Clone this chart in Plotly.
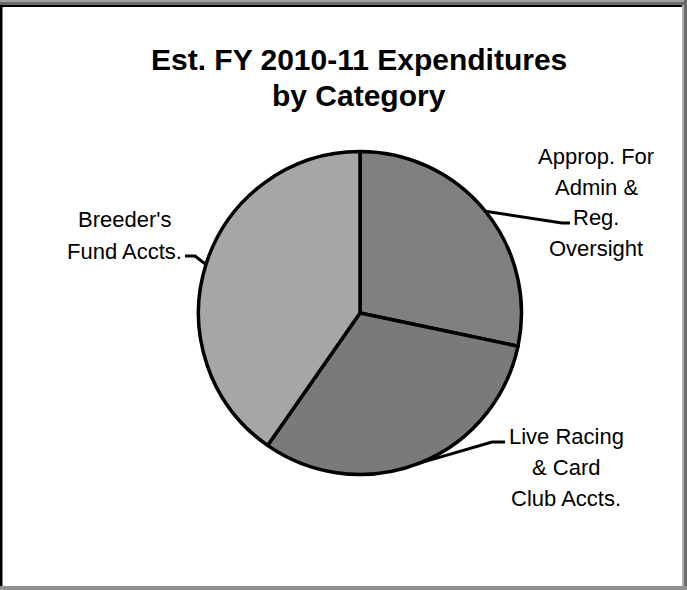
import math
import plotly.graph_objects as go

# ---- data ----
categories = ["Approp. For Admin & Reg. Oversight",
              "Live Racing & Card Club Accts.",
              "Breeder's Fund Accts."]
values = [28.3, 31.4, 40.3]
slice_colors = ["#808080", "#7a7a7a", "#a6a6a6"]
label_lines = [["Approp. For", "Admin &", "Reg.", "Oversight"],
               ["Live Racing", "& Card", "Club Accts."],
               ["Breeder's", "Fund Accts."]]
title_lines = ["Est. FY 2010-11 Expenditures", "by Category"]

W, H = 687, 590
CX, CY, R = 360, 313, 161.5


def px(x):
    return x / W


def py(y):
    return 1 - y / H


fig = go.Figure(go.Pie(
    labels=categories, values=values, sort=False, direction="clockwise",
    rotation=0, textinfo="none", hoverinfo="label+percent",
    marker=dict(colors=slice_colors, line=dict(color="black", width=3.5)),
    domain=dict(x=[px(CX - R), px(CX + R)], y=[py(CY + R), py(CY - R)]),
    showlegend=False,
))

label_font = dict(family="Liberation Sans, Arial, sans-serif", size=22, color="black")
annotations = []
# title
for txt, yc in zip(title_lines, [60, 95]):
    annotations.append(dict(text=f"<b>{txt}</b>", x=px(359), y=py(yc), xref="paper", yref="paper",
                            showarrow=False, xanchor="center", yanchor="middle",
                            font=dict(family="Liberation Sans, Arial, sans-serif", size=30, color="black")))

# label placement (layout)
label_pos = [(596, [156, 187, 218, 248]),
             (566, [436, 467, 498]),
             (124, [219, 252])]
for lines, (xc, ys) in zip(label_lines, label_pos):
    for t, yc in zip(lines, ys):
        annotations.append(dict(text=t, x=px(xc), y=py(yc), xref="paper", yref="paper",
                                showarrow=False, xanchor="center", yanchor="middle", font=label_font))

# leader lines: start at slice mid-angle on the rim
elbows = [[(562, 223), (570, 223)],
          [(492, 442), (505, 442)],
          [(195, 256), (185, 256)]]
total = sum(values)
cum = 0
shapes = []
for v, pts in zip(values, elbows):
    mid = (cum + v / 2) / total * 2 * math.pi
    cum += v
    sx = CX + R * math.sin(mid)
    sy = CY - R * math.cos(mid)
    path = f"M {px(sx)} {py(sy)}" + "".join(f" L {px(x)} {py(y)}" for x, y in pts)
    shapes.append(dict(type="path", path=path, xref="paper", yref="paper",
                       line=dict(color="black", width=3)))


# frame
def rect(x0, y0, x1, y1, color):
    return dict(type="rect", xref="paper", yref="paper", x0=px(x0), x1=px(x1), y0=py(y1), y1=py(y0),
                fillcolor=color, line=dict(width=0), layer="above")


shapes += [
    rect(0, 0, W, 2, "#a0a0a0"),
    rect(0, 2, W, 5, "#6a6a6a"),
    rect(0, 5, 683, 7, "#000000"),
    rect(0, 5, 2.5, H, "#000000"),
    rect(682, 5, 684, H, "#b4b4b4"),
    rect(684, 0, W, H, "#6a6a6a"),
    rect(0, 586, W, H, "#909090"),
]

fig.update_layout(width=W, height=H, margin=dict(l=0, r=0, t=0, b=0, pad=0),
                  paper_bgcolor="white", plot_bgcolor="white",
                  annotations=annotations, shapes=shapes)
fig.write_html("out.html", config={"displayModeBar": False},
               post_script="document.body.style.margin='0';document.body.style.overflow='hidden';")
